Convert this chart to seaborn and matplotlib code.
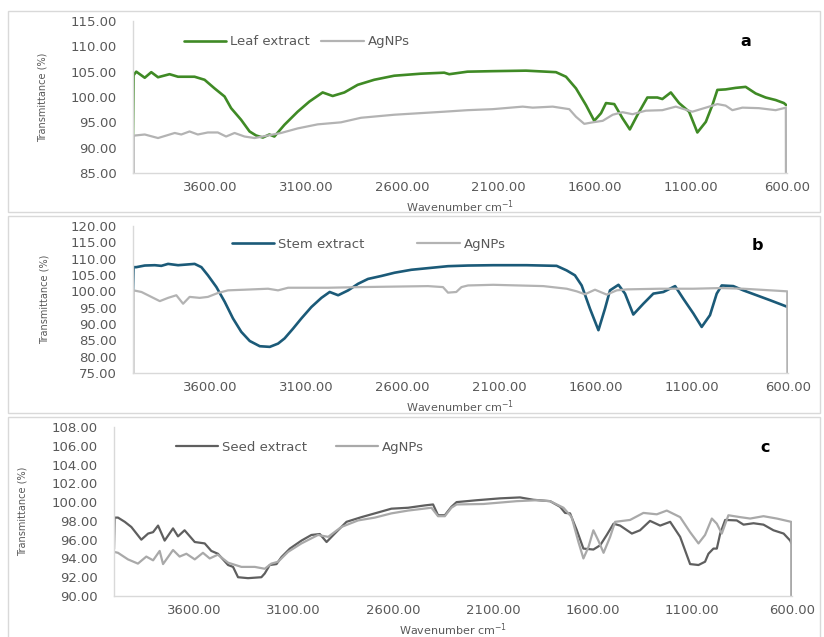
import numpy as np
import pandas as pd
import seaborn as sns
import matplotlib.pyplot as plt
from matplotlib.patches import Rectangle
from matplotlib.ticker import FormatStrFormatter

# panel a - leaf
wn_leaf = [4000, 3997, 3983, 3939, 3905, 3870, 3810, 3766, 3680, 3628, 3576, 3524, 3490, 3438, 3394, 3360,
           3325, 3291, 3265, 3213, 3144, 3083, 3014, 2962, 2901, 2832, 2746, 2642, 2504, 2382, 2356, 2261,
           2130, 1957, 1801, 1749, 1697, 1645, 1602, 1567, 1541, 1498, 1455, 1417, 1377, 1326, 1274, 1248,
           1204, 1161, 1109, 1066, 1022, 988, 962, 919, 867, 815, 763, 711, 659, 616, 604]
t_leaf = [92.5, 104.3, 105.0, 103.8, 104.9, 103.9, 104.5, 104.0, 104.0, 103.4, 101.7, 100.1, 97.8, 95.5, 93.2, 92.4,
          92.0, 92.6, 92.2, 94.5, 97.1, 99.1, 100.9, 100.2, 100.9, 102.4, 103.4, 104.2, 104.6, 104.8, 104.5, 105.0,
          105.1, 105.2, 104.9, 104.0, 101.7, 98.4, 95.3, 96.8, 98.8, 98.6, 95.8, 93.6, 96.5, 99.9, 99.9, 99.6,
          100.9, 98.8, 97.1, 93.0, 95.1, 98.4, 101.4, 101.5, 101.8, 102.0, 100.7, 99.9, 99.4, 98.8, 98.4]
wn_ag_a = [4000, 3996, 3990, 3939, 3870, 3783, 3749, 3706, 3663, 3611, 3559, 3516, 3472, 3420, 3368, 3299,
           3230, 3144, 3040, 2919, 2815, 2642, 2469, 2382, 2261, 2130, 1974, 1922, 1818, 1732, 1697, 1654,
           1610, 1558, 1506, 1455, 1403, 1334, 1248, 1178, 1092, 1022, 962, 919, 884, 832, 746, 659, 616, 606, 603]
t_ag_a = [0, 92.3, 92.4, 92.6, 91.9, 92.9, 92.6, 93.2, 92.6, 93.0, 93.0, 92.2, 92.9, 92.2, 91.9, 92.4,
          92.9, 93.8, 94.6, 95.0, 95.9, 96.5, 96.9, 97.1, 97.4, 97.6, 98.1, 97.9, 98.1, 97.6, 96.1, 94.7,
          95.0, 95.3, 96.5, 97.0, 96.6, 97.3, 97.4, 98.1, 97.1, 97.9, 98.6, 98.3, 97.4, 97.9, 97.8, 97.4, 97.8, 97.9, 0]

# panel b - stem
wn_stem = [4000, 3997, 3983, 3939, 3887, 3853, 3818, 3766, 3723, 3680, 3645, 3611, 3567, 3524, 3481, 3438,
           3394, 3342, 3290, 3247, 3213, 3169, 3126, 3074, 3022, 2979, 2935, 2883, 2832, 2780, 2711, 2642,
           2555, 2469, 2365, 2261, 2130, 1957, 1801, 1749, 1706, 1671, 1628, 1584, 1550, 1524, 1480, 1446,
           1403, 1351, 1299, 1247, 1186, 1143, 1091, 1048, 1005, 970, 944, 884, 832, 763, 694, 601]
t_stem = [100.3, 107.4, 107.4, 107.9, 108.0, 107.8, 108.4, 108.0, 108.2, 108.4, 107.4, 104.9, 101.3, 96.8, 91.7, 87.6,
          84.8, 83.2, 83.0, 84.0, 85.6, 88.6, 91.7, 95.2, 98.0, 99.8, 98.8, 100.3, 102.3, 103.8, 104.7, 105.7,
          106.6, 107.1, 107.7, 107.9, 108.0, 108.0, 107.8, 106.4, 104.9, 101.8, 94.7, 88.1, 94.7, 100.3, 102.0, 99.3,
          92.9, 96.2, 99.3, 99.8, 101.6, 97.7, 93.2, 89.1, 92.7, 99.3, 101.8, 101.6, 100.3, 98.8, 97.3, 95.2]
wn_ag_b = [4000, 3997, 3956, 3905, 3861, 3818, 3775, 3740, 3706, 3654, 3611, 3559, 3507, 3420, 3299, 3247,
           3195, 2987, 2815, 2469, 2391, 2365, 2322, 2295, 2261, 2130, 1870, 1749, 1697, 1654, 1602, 1541,
           1489, 1437, 1264, 1091, 953, 832, 604, 601]
t_ag_b = [0, 100.3, 99.8, 98.3, 97.0, 98.0, 98.8, 96.2, 98.3, 98.0, 98.3, 99.5, 100.3, 100.5, 100.8, 100.3,
          101.1, 101.1, 101.3, 101.6, 101.3, 99.6, 99.8, 101.3, 101.8, 102.0, 101.6, 100.8, 100.0, 99.1, 100.5, 99.0,
          100.3, 100.6, 100.8, 100.8, 101.0, 100.8, 100.0, 0]

# panel c - seed
wn_seed = [4000, 3997, 3980, 3946, 3913, 3863, 3829, 3804, 3779, 3746, 3704, 3679, 3646, 3595, 3545, 3512,
           3479, 3428, 3403, 3378, 3328, 3261, 3244, 3219, 3185, 3160, 3118, 3060, 3010, 2968, 2934, 2893,
           2834, 2759, 2692, 2609, 2525, 2441, 2400, 2375, 2341, 2308, 2282, 2181, 2064, 1964, 1897, 1813,
           1763, 1738, 1713, 1679, 1646, 1596, 1562, 1529, 1495, 1462, 1403, 1362, 1312, 1261, 1211, 1161,
           1111, 1069, 1036, 1019, 994, 977, 960, 935, 877, 843, 793, 743, 693, 642, 609, 603]
t_seed = [95.0, 98.35, 98.35, 97.9, 97.35, 96.0, 96.65, 96.8, 97.5, 95.9, 97.2, 96.35, 97.0, 95.75, 95.6, 94.8,
          94.5, 93.3, 93.1, 92.0, 91.9, 92.0, 92.4, 93.3, 93.4, 94.15, 95.05, 95.9, 96.5, 96.6, 95.75, 96.65,
          97.9, 98.4, 98.8, 99.3, 99.4, 99.65, 99.75, 98.6, 98.6, 99.5, 100.0, 100.2, 100.4, 100.5, 100.25, 100.1,
          99.5, 98.85, 98.8, 97.0, 95.05, 94.95, 95.4, 96.5, 97.7, 97.5, 96.65, 97.0, 98.0, 97.5, 97.9, 96.3,
          93.4, 93.3, 93.65, 94.5, 95.05, 95.05, 96.65, 98.1, 98.05, 97.6, 97.75, 97.6, 97.0, 96.65, 95.9, 95.6]
wn_ag_c = [4000, 3980, 3930, 3880, 3838, 3804, 3771, 3754, 3704, 3671, 3637, 3595, 3554, 3520, 3479, 3428,
           3361, 3294, 3244, 3211, 3177, 3127, 3060, 2977, 2926, 2860, 2776, 2692, 2609, 2525, 2408, 2375,
           2341, 2308, 2282, 2148, 1981, 1880, 1813, 1746, 1705, 1671, 1646, 1621, 1596, 1571, 1545, 1512,
           1487, 1412, 1345, 1278, 1228, 1161, 1111, 1069, 1036, 1002, 977, 952, 919, 860, 810, 743, 676, 604, 601]
t_ag_c = [94.7, 94.6, 93.9, 93.45, 94.2, 93.8, 94.8, 93.4, 94.9, 94.2, 94.5, 93.9, 94.6, 94.0, 94.4, 93.55,
          93.1, 93.1, 92.9, 93.45, 93.65, 94.7, 95.6, 96.5, 96.3, 97.35, 98.05, 98.35, 98.8, 99.1, 99.4, 98.5,
          98.5, 99.4, 99.75, 99.8, 100.1, 100.2, 100.1, 99.4, 98.4, 95.75, 94.0, 95.2, 97.0, 95.9, 94.6, 96.3,
          97.9, 98.1, 98.85, 98.7, 99.1, 98.4, 96.8, 95.6, 96.5, 98.25, 97.7, 96.65, 98.6, 98.4, 98.25, 98.5, 98.25, 97.9, 0]

x_ticks = [3600, 3100, 2600, 2100, 1600, 1100, 600]

sns.set_style('white')
plt.rcParams['font.family'] = ['DejaVu Sans']

W, H = 824, 637
fig = plt.figure(figsize=(W / 100, H / 100), dpi=100)

# panel frames (pixel boxes: left, top, right, bottom)
for x0, y0, x1, y1 in [(8, 11, 820, 212), (8, 216, 820, 413), (8, 417, 820, 645)]:
    fig.add_artist(Rectangle((x0 / W, 1 - y1 / H), (x1 - x0) / W, (y1 - y0) / H,
                             transform=fig.transFigure, fill=False, edgecolor='#d9d9d9', lw=1.0))


def panel(box, wn1, t1, lab1, col1, wn2, t2, col2, ylim, yticks, leg_pos, colsp, letter, letter_pos,
          ylab_x, lw1=1.9):
    l, t, r, b = box
    ax = fig.add_axes([l / W, 1 - b / H, (r - l) / W, (b - t) / H])
    df1 = pd.DataFrame({'wn': wn1, 'T': t1})
    df2 = pd.DataFrame({'wn': wn2, 'T': t2})
    sns.lineplot(data=df1, x='wn', y='T', ax=ax, color=col1, lw=lw1, label=lab1,
                 estimator=None, sort=False, solid_joinstyle='round')
    sns.lineplot(data=df2, x='wn', y='T', ax=ax, color=col2, lw=1.6, label='AgNPs',
                 estimator=None, sort=False, solid_joinstyle='round')
    ax.set_xlim(4000, 600)
    ax.set_ylim(*ylim)
    ax.set_xticks(x_ticks)
    ax.set_yticks(yticks)
    ax.xaxis.set_major_formatter(FormatStrFormatter('%.2f'))
    ax.yaxis.set_major_formatter(FormatStrFormatter('%.2f'))
    ax.tick_params(length=0, labelsize=9.5, colors='#595959')
    ax.tick_params(axis='y', pad=11.5)
    ax.tick_params(axis='x', pad=6)
    for s in ['top', 'right']:
        ax.spines[s].set_visible(False)
    for s in ['left', 'bottom']:
        ax.spines[s].set_color('#d9d9d9')
        ax.spines[s].set_linewidth(1.0)
    ax.set_xlabel('Wavenumber cm$^{-1}$', fontsize=8, color='#595959', labelpad=3)
    ax.set_ylabel('Transmittance (%)', fontsize=7, color='#595959')
    ax.yaxis.set_label_coords(ylab_x, 0.5)
    ax.legend(loc='center', bbox_to_anchor=leg_pos, ncol=2, frameon=False, fontsize=9.5,
              handlelength=3.2, handletextpad=0.3, columnspacing=colsp, labelcolor='#595959')
    ax.text(letter_pos[0], letter_pos[1], letter, transform=ax.transAxes, fontsize=11.5,
            fontweight='bold', ha='center', va='center', color='black')
    return ax


panel((133, 21, 787, 173), wn_leaf, t_leaf, 'Leaf extract', '#3f8a25', wn_ag_a, t_ag_a, '#b3b3b3',
      (85, 115), np.arange(85, 116, 5), (0.25, 0.862), 0.9, 'a', (0.937, 0.868), -0.130)
panel((133, 226, 788, 373), wn_stem, t_stem, 'Stem extract', '#1b5a78', wn_ag_b, t_ag_b, '#b3b3b3',
      (75, 120), np.arange(75, 121, 5), (0.36, 0.876), 4.0, 'b', (0.954, 0.869), -0.127)
panel((114, 427, 792, 596), wn_seed, t_seed, 'Seed extract', '#5f5f5f', wn_ag_c, t_ag_c, '#a9a9a9',
      (90, 108), np.arange(90, 109, 2), (0.274, 0.88), 2.2, 'c', (0.96, 0.88), -0.127, lw1=1.6)

plt.savefig('out.png', dpi=100)
